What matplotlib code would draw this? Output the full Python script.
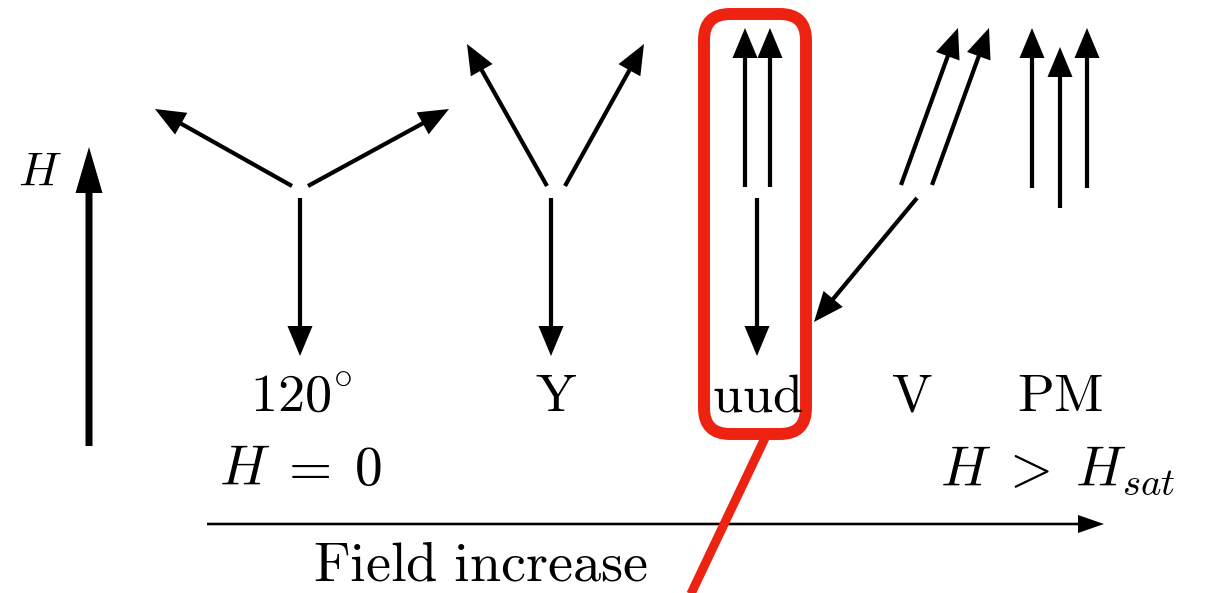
import matplotlib.pyplot as plt
from matplotlib.patches import FancyBboxPatch

plt.rcParams['mathtext.fontset'] = 'cm'
plt.rcParams['font.family'] = ['DejaVu Serif']

# spin arrows per phase: (x0, y0, x1, y1) in picture pixels, tail -> tip
spins_120 = [(300, 198, 300, 356), (292, 186, 155, 109), (308, 186, 449, 109)]
spins_Y = [(551, 198, 551, 356), (547, 186, 467, 44), (565, 186, 644, 44)]
spins_uud = [(745, 187, 745, 28), (770, 187, 770, 28), (757, 198, 757, 356)]
spins_V = [(901, 185, 958, 28), (932, 185, 989, 28), (917, 198, 814, 322)]
spins_PM = [(1032, 188, 1032, 28), (1060, 208, 1060, 47), (1087, 188, 1087, 28)]

phase_names = [r'$\mathrm{120^{\circ}}$', r'$\mathrm{Y}$', r'$\mathrm{uud}$', r'$\mathrm{V}$', r'$\mathrm{PM}$']
phase_x = [301, 556, 757, 912, 1060]

fig = plt.figure(figsize=(12.13, 5.93), dpi=100)
ax = fig.add_axes([0, 0, 1, 1])
ax.set_xlim(0, 1213)
ax.set_ylim(593, 0)
ax.axis('off')

def spin(x0, y0, x1, y1, w=4.2, hw=25, hl=30):
  ax.arrow(x0, y0, x1 - x0, y1 - y0, width=w, head_width=hw, head_length=hl,
           length_includes_head=True, color='black', lw=0)

for group in [spins_120, spins_Y, spins_uud, spins_V, spins_PM]:
  for s in group:
    spin(*s)

# field direction arrow
spin(89, 446, 89, 147, w=7, hw=27, hl=46)
ax.text(40, 172, r'$H$', fontsize=34, ha='center', va='center')

for name, x in zip(phase_names, phase_x):
  ax.text(x, 396, name, fontsize=39, ha='center', va='center')

ax.text(301, 470, r'$H\;=\;0$', fontsize=40, ha='center', va='center')
ax.text(1176, 470, r'$H\;>\;H_{sat}$', fontsize=40, ha='right', va='center')

spin(207, 524, 1104, 524, w=2.6, hw=18, hl=26)
ax.text(480, 565, r'$\mathrm{Field\ increase}$', fontsize=40.5, ha='center', va='center')

# red highlight around uud
red = '#ee2211'
box = FancyBboxPatch((704, 14), 102, 420, boxstyle='round,pad=0,rounding_size=26',
                     fill=False, ec=red, lw=8.6)
ax.add_patch(box)
ax.plot([765, 688], [438, 600], color=red, lw=6.5, solid_capstyle='butt')

fig.savefig('out.png', dpi=100)
